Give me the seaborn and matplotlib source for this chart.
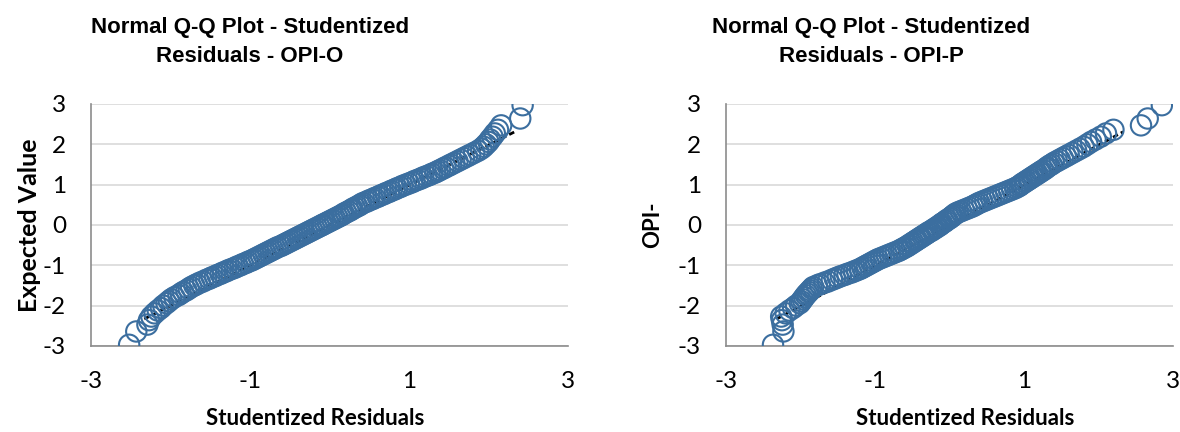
import matplotlib
matplotlib.use('Agg')
import matplotlib.pyplot as plt
import seaborn as sns
import pandas as pd

# ------------------------------------------------------------------
# DATA
# ------------------------------------------------------------------
# expected normal values (y), shared by both panels
expected = [
    -2.97, -2.64, -2.47, -2.36, -2.27, -2.19, -2.12, -2.06, -2.00, -1.94,
    -1.89, -1.84, -1.79, -1.74, -1.70, -1.66, -1.62, -1.58, -1.54, -1.50,
    -1.47, -1.43, -1.40, -1.36, -1.33, -1.30, -1.27, -1.24, -1.21, -1.18,
    -1.15, -1.12, -1.09, -1.06, -1.03, -1.00, -0.97, -0.94, -0.91, -0.88,
    -0.85, -0.82, -0.79, -0.76, -0.73, -0.70, -0.67, -0.64, -0.61, -0.58,
    -0.55, -0.52, -0.49, -0.46, -0.43, -0.40, -0.37, -0.34, -0.31, -0.28,
    -0.25, -0.22, -0.19, -0.16, -0.13, -0.10, -0.07, -0.04, -0.01,
    0.01, 0.04, 0.07, 0.10, 0.13, 0.16, 0.19, 0.22, 0.25, 0.28,
    0.31, 0.34, 0.37, 0.40, 0.43, 0.46, 0.49, 0.52, 0.55, 0.58,
    0.61, 0.64, 0.67, 0.70, 0.73, 0.76, 0.79, 0.82, 0.85, 0.88,
    0.91, 0.94, 0.97, 1.00, 1.03, 1.06, 1.09, 1.12, 1.15, 1.18,
    1.21, 1.24, 1.27, 1.30, 1.33, 1.36, 1.40, 1.43, 1.47, 1.50,
    1.54, 1.58, 1.62, 1.66, 1.70, 1.74, 1.79, 1.84, 1.89, 1.94,
    2.00, 2.06, 2.12, 2.19, 2.27, 2.36, 2.47, 2.64, 2.97,
]

# studentized residuals (x) for OPI-O
resid_o = [
    -2.52, -2.43, -2.29, -2.27, -2.24, -2.20, -2.16, -2.12, -2.09, -2.05,
    -2.02, -1.99, -1.95, -1.90, -1.87, -1.84, -1.80, -1.77, -1.74, -1.70,
    -1.67, -1.63, -1.59, -1.55, -1.51, -1.48, -1.44, -1.41, -1.37, -1.34,
    -1.30, -1.27, -1.23, -1.19, -1.16, -1.12, -1.09, -1.05, -1.02, -0.98,
    -0.95, -0.92, -0.89, -0.86, -0.83, -0.80, -0.77, -0.74, -0.71, -0.68,
    -0.65, -0.61, -0.58, -0.55, -0.52, -0.49, -0.46, -0.43, -0.40, -0.37,
    -0.34, -0.31, -0.28, -0.25, -0.22, -0.19, -0.16, -0.13, -0.10,
    -0.08, -0.05, -0.02, 0.01, 0.04, 0.07, 0.10, 0.13, 0.16, 0.18,
    0.21, 0.24, 0.27, 0.29, 0.32, 0.35, 0.38, 0.40, 0.43, 0.47,
    0.50, 0.54, 0.57, 0.61, 0.64, 0.68, 0.71, 0.75, 0.78, 0.82,
    0.85, 0.89, 0.92, 0.96, 1.00, 1.04, 1.07, 1.11, 1.15, 1.18,
    1.22, 1.26, 1.29, 1.33, 1.36, 1.39, 1.43, 1.46, 1.50, 1.53,
    1.57, 1.61, 1.65, 1.69, 1.73, 1.77, 1.82, 1.87, 1.91, 1.94,
    1.97, 2.00, 2.02, 2.05, 2.08, 2.12, 2.16, 2.40, 2.43,
]

# studentized residuals (x) for OPI-P
resid_p = [
    -2.37, -2.23, -2.24, -2.25, -2.26, -2.20, -2.15, -2.10, -2.06, -2.01,
    -1.99, -1.97, -1.95, -1.93, -1.91, -1.89, -1.87, -1.85, -1.83, -1.78,
    -1.74, -1.68, -1.63, -1.58, -1.54, -1.50, -1.46, -1.41, -1.37, -1.32,
    -1.28, -1.24, -1.20, -1.17, -1.14, -1.11, -1.08, -1.05, -1.02, -0.99,
    -0.96, -0.92, -0.88, -0.84, -0.80, -0.76, -0.72, -0.68, -0.65, -0.62,
    -0.59, -0.56, -0.54, -0.51, -0.49, -0.46, -0.44, -0.41, -0.39, -0.36,
    -0.34, -0.31, -0.29, -0.26, -0.23, -0.21, -0.18, -0.16, -0.13,
    -0.12, -0.10, -0.07, -0.05, -0.03, 0.00, 0.02, 0.04, 0.06, 0.08,
    0.11, 0.15, 0.19, 0.23, 0.27, 0.31, 0.34, 0.37, 0.40, 0.44,
    0.48, 0.52, 0.56, 0.60, 0.64, 0.68, 0.72, 0.76, 0.80, 0.84,
    0.88, 0.91, 0.94, 0.96, 0.98, 1.01, 1.03, 1.06, 1.08, 1.11,
    1.13, 1.16, 1.18, 1.21, 1.23, 1.26, 1.29, 1.31, 1.34, 1.37,
    1.40, 1.44, 1.48, 1.52, 1.56, 1.60, 1.65, 1.70, 1.75, 1.80,
    1.85, 1.90, 1.96, 2.03, 2.10, 2.20, 2.57, 2.66, 2.85,
]

# dashed trend line end points
trend_o_x = [-2.33, 2.33]
trend_o_y = [-2.33, 2.31]
trend_p_x = [-2.32, 2.33]
trend_p_y = [-2.33, 2.31]

titles = ['Normal Q-Q Plot - Studentized\nResiduals - OPI-O',
          'Normal Q-Q Plot - Studentized\nResiduals - OPI-P']
y_labels = ['Expected Value', 'OPI-']
x_label = 'Studentized Residuals'
x_ticks = [-3, -1, 1, 3]
y_ticks = [-3, -2, -1, 0, 1, 2, 3]

# ------------------------------------------------------------------
# PLOT
# ------------------------------------------------------------------
sns.set_style('white')
plt.rcParams['font.family'] = ['Lato', 'DejaVu Sans']
plt.rcParams['text.color'] = 'black'

blue = '#3B6E9F'
axis_grey = '#8C8C8C'

fig = plt.figure(figsize=(11.8, 4.32), dpi=100)
ax_left = fig.add_axes([0.0771, 0.1991, 0.4042, 0.5602])
ax_right = fig.add_axes([0.6153, 0.1991, 0.3788, 0.5602])

panels = [
    (ax_left, resid_o, trend_o_x, trend_o_y, 0.470, -0.105, 18, 250),
    (ax_right, resid_p, trend_p_x, trend_p_y, 0.535, -0.141, 16, 871),
]

for idx, (ax, resid, tx, ty, xlab_pos, ylab_pos, ylab_size, title_x) in enumerate(panels):
    df = pd.DataFrame({'resid': resid, 'expected': expected})

    # trend line first so the hollow circles sit on top
    sns.lineplot(x=tx, y=ty, ax=ax, color='black', linestyle=(0, (2, 1.2)),
                 linewidth=2, zorder=2)
    sns.scatterplot(data=df, x='resid', y='expected', ax=ax, marker='o', s=215,
                    facecolor='none', edgecolor=blue, linewidth=1.5, zorder=3)

    ax.set_xlim(-3, 3)
    ax.set_ylim(-3, 3)
    ax.set_xticks(x_ticks)
    ax.set_yticks(y_ticks)
    ax.set_xticklabels([str(t) for t in x_ticks])
    ax.set_yticklabels([str(t) for t in y_ticks])

    # horizontal gridlines only
    ax.grid(axis='y', color='#D9D9D9', linewidth=1.2)
    ax.grid(axis='x', visible=False)
    ax.set_axisbelow(True)

    for side in ['top', 'right']:
        ax.spines[side].set_visible(False)
    for side in ['left', 'bottom']:
        ax.spines[side].set_color(axis_grey)
        ax.spines[side].set_linewidth(1.2)
        ax.spines[side].set_zorder(1)

    ax.tick_params(axis='both', which='major', direction='out', length=6,
                   width=1.2, color=axis_grey, labelsize=17.5, labelcolor='black')
    ax.tick_params(axis='y', pad=12)
    ax.tick_params(axis='x', pad=12)

    ax.set_xlabel(x_label, fontsize=16, fontweight='bold', color='black')
    ax.xaxis.set_label_coords(xlab_pos, -0.255)
    ax.set_ylabel(y_labels[idx], fontsize=ylab_size, fontweight='bold', color='black')
    ax.yaxis.set_label_coords(ylab_pos, 0.5)

    fig.text(title_x / 1180, 1 - 42.5 / 432, titles[idx], ha='center', va='center',
             fontsize=16, fontweight='bold', color='black',
             family=['Liberation Sans', 'DejaVu Sans'], linespacing=1.5)

plt.savefig('out.png', dpi=100)
plt.close(fig)
